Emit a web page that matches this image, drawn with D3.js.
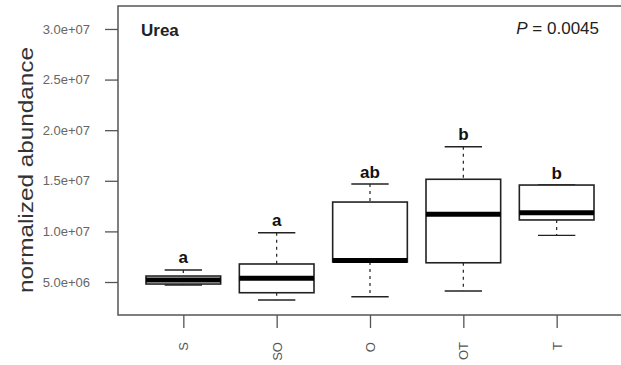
<!DOCTYPE html>
<html>
<head>
<meta charset="utf-8">
<script src="https://cdn.jsdelivr.net/npm/d3@7"></script>
<style>
  html, body { margin: 0; padding: 0; background: #fff; }
  svg { display: block; font-family: "Liberation Sans", Arial, sans-serif; }
</style>
</head>
<body>
<div id="chart"></div>
<script>
// ---- data ----
const groups = ["S", "SO", "O", "OT", "T"];
const whiskerLow  = [4.70e6, 3.22e6, 3.55e6, 4.11e6, 9.61e6];
const q1          = [4.80e6, 3.94e6, 6.98e6, 6.90e6, 11.13e6];
const median      = [5.20e6, 5.37e6, 7.12e6, 11.69e6, 11.85e6];
const q3          = [5.59e6, 6.78e6, 12.90e6, 15.15e6, 14.58e6];
const whiskerHigh = [6.19e6, 9.87e6, 14.68e6, 18.37e6, 14.58e6];
const letters     = ["a", "a", "ab", "b", "b"];
const yTicks      = [5e6, 1e7, 1.5e7, 2e7, 2.5e7, 3e7];
const yTickLabels = ["5.0e+06", "1.0e+07", "1.5e+07", "2.0e+07", "2.5e+07", "3.0e+07"];

const W = 621, H = 365;
const frame = { left: 118, right: 622, top: 6, bottom: 315 };

const svg = d3.select("#chart").append("svg")
  .attr("width", W).attr("height", H);

// R style: positions 1..n, axis padded 4%
const x = d3.scaleLinear().domain([0.3, 5.7]).range([frame.left, frame.right]);
const y = d3.scaleLinear().domain([1.74e6, 32.27e6]).range([frame.bottom, frame.top]);
const boxHalf = x(1.4) - x(1);   // box width 0.8
const capHalf = boxHalf / 2;

// frame
svg.append("rect")
  .attr("x", frame.left).attr("y", frame.top)
  .attr("width", frame.right - frame.left).attr("height", frame.bottom - frame.top)
  .attr("fill", "none").attr("stroke", "#555").attr("stroke-width", 1.5);

// y axis
const yAxis = svg.append("g").attr("transform", `translate(${frame.left},0)`)
  .call(d3.axisLeft(y).tickValues(yTicks).tickSize(13).tickPadding(15)
    .tickFormat((d, i) => yTickLabels[i]));
yAxis.select(".domain").remove();
yAxis.selectAll("line").attr("stroke", "#555").attr("stroke-width", 1.3);
yAxis.selectAll("text").attr("fill", "#666").attr("font-size", 13)
  .attr("font-family", "Liberation Sans, Arial, sans-serif");

// x axis
const idx = groups.map((g, i) => i + 1);
const xAxis = svg.append("g").attr("transform", `translate(0,${frame.bottom})`)
  .call(d3.axisBottom(x).tickValues(idx).tickSize(13).tickFormat(() => ""));
xAxis.select(".domain").remove();
xAxis.selectAll("line").attr("stroke", "#555").attr("stroke-width", 1.3);

svg.append("g").selectAll("text").data(groups).join("text")
  .attr("transform", (d, i) => `translate(${x(i + 1) + 5},342) rotate(-90)`)
  .attr("text-anchor", "end")
  .attr("font-size", 13)
  .attr("fill", "#555")
  .text(d => d);

// y label
svg.append("text")
  .attr("transform", "translate(33,170) rotate(-90)")
  .attr("text-anchor", "middle")
  .attr("font-size", 21)
  .attr("textLength", 246)
  .attr("lengthAdjust", "spacingAndGlyphs")
  .attr("fill", "#333")
  .text("normalized abundance");

// boxes
const g = svg.append("g").selectAll("g").data(groups).join("g")
  .attr("transform", (d, i) => `translate(${x(i + 1)},0)`);

const ink = "#222";
// whiskers (dashed)
g.append("line")
  .attr("x1", 0).attr("x2", 0)
  .attr("y1", (d, i) => y(whiskerHigh[i])).attr("y2", (d, i) => y(q3[i]))
  .attr("stroke", ink).attr("stroke-width", 1.2).attr("stroke-dasharray", "3,4");
g.append("line")
  .attr("x1", 0).attr("x2", 0)
  .attr("y1", (d, i) => y(q1[i])).attr("y2", (d, i) => y(whiskerLow[i]))
  .attr("stroke", ink).attr("stroke-width", 1.2).attr("stroke-dasharray", "3,4");
// caps
g.append("line")
  .attr("x1", -capHalf).attr("x2", capHalf)
  .attr("y1", (d, i) => y(whiskerHigh[i])).attr("y2", (d, i) => y(whiskerHigh[i]))
  .attr("stroke", ink).attr("stroke-width", 1.4);
g.append("line")
  .attr("x1", -capHalf).attr("x2", capHalf)
  .attr("y1", (d, i) => y(whiskerLow[i])).attr("y2", (d, i) => y(whiskerLow[i]))
  .attr("stroke", ink).attr("stroke-width", 1.4);
// box
g.append("rect")
  .attr("x", -boxHalf).attr("width", boxHalf * 2)
  .attr("y", (d, i) => y(q3[i]))
  .attr("height", (d, i) => y(q1[i]) - y(q3[i]))
  .attr("fill", "#fff").attr("stroke", ink).attr("stroke-width", 1.6);
// median
g.append("line")
  .attr("x1", -boxHalf).attr("x2", boxHalf)
  .attr("y1", (d, i) => y(median[i])).attr("y2", (d, i) => y(median[i]))
  .attr("stroke", "#000").attr("stroke-width", 5);
// significance letters
g.append("text")
  .attr("y", (d, i) => y(whiskerHigh[i]) - 6.5)
  .attr("text-anchor", "middle")
  .attr("font-size", 17).attr("font-weight", "bold").attr("fill", "#111")
  .text((d, i) => letters[i]);

// annotations
svg.append("text")
  .attr("x", 141).attr("y", 36)
  .attr("font-size", 17).attr("font-weight", "bold").attr("fill", "#222")
  .text("Urea");

const p = svg.append("text")
  .attr("x", 599).attr("y", 34).attr("text-anchor", "end")
  .attr("font-size", 17).attr("fill", "#222");
p.append("tspan").attr("font-style", "italic").text("P");
p.append("tspan").text(" = 0.0045");
</script>
</body>
</html>
